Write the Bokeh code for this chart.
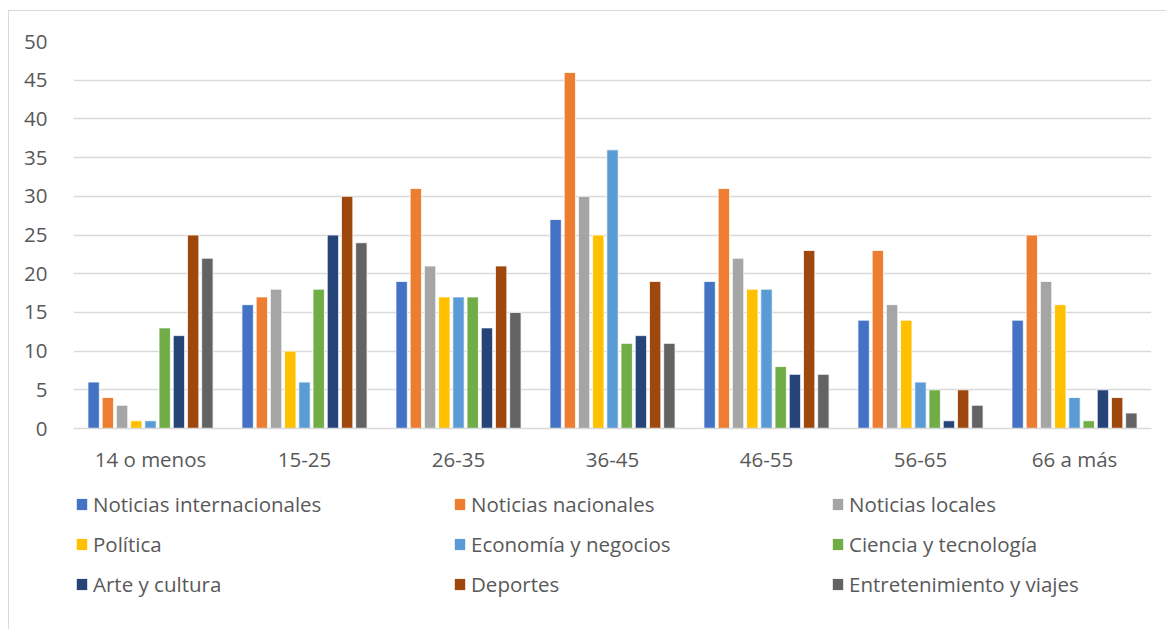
from bokeh.plotting import figure
from bokeh.layouts import column
from bokeh.models import FactorRange, Range1d, Legend, LegendItem, SingleIntervalTicker, ColumnDataSource
from bokeh.transform import dodge
from bokeh.embed import file_html
from bokeh.resources import INLINE

categories = ["14 o menos", "15-25", "26-35", "36-45", "46-55", "56-65", "66 a más"]
series_names = ["Noticias internacionales", "Noticias nacionales", "Noticias locales",
                "Política", "Economía y negocios", "Ciencia y tecnología",
                "Arte y cultura", "Deportes", "Entretenimiento y viajes"]
noticias_internacionales = [6, 16, 19, 27, 19, 14, 14]
noticias_nacionales = [4, 17, 31, 46, 31, 23, 25]
noticias_locales = [3, 18, 21, 30, 22, 16, 19]
politica = [1, 10, 17, 25, 18, 14, 16]
economia_negocios = [1, 6, 17, 36, 18, 6, 4]
ciencia_tecnologia = [13, 18, 17, 11, 8, 5, 1]
arte_cultura = [12, 25, 13, 12, 7, 1, 5]
deportes = [25, 30, 21, 19, 23, 5, 4]
entretenimiento_viajes = [22, 24, 15, 11, 7, 3, 2]
series_values = [noticias_internacionales, noticias_nacionales, noticias_locales, politica,
                 economia_negocios, ciencia_tecnologia, arte_cultura, deportes,
                 entretenimiento_viajes]
colors = ["#4472C4", "#ED7D31", "#A5A5A5", "#FFC000", "#5B9BD5", "#70AD47",
          "#264478", "#9E480E", "#636363"]

FONT = "Open Sans"
TXT = "#595959"
FS = "20.5px"

data = {"cat": categories}
for i, v in enumerate(series_values):
    data[f"s{i}"] = v
src = ColumnDataSource(data)

p = figure(x_range=FactorRange(*categories), y_range=Range1d(0, 50),
           frame_width=1078, frame_height=387,
           min_border_left=64, min_border_right=16, min_border_top=30, min_border_bottom=50,
           output_backend="svg", toolbar_location=None)
p.outline_line_color = None
p.x_range.range_padding = 0
p.background_fill_color = "white"
p.border_fill_color = "white"

slot = 0.0923
for i, name in enumerate(series_names):
    off = (i - 4) * slot
    p.vbar(x=dodge("cat", off, range=p.x_range), top=f"s{i}", width=0.074,
           source=src, fill_color=colors[i], line_color="white", line_width=0.8)

p.yaxis.ticker = SingleIntervalTicker(interval=5)
p.yaxis.axis_line_color = None
p.yaxis.major_tick_line_color = None
p.yaxis.minor_tick_line_color = None
p.yaxis.major_label_standoff = 20
p.yaxis.major_label_text_font = FONT
p.yaxis.major_label_text_font_size = FS
p.yaxis.major_label_text_color = TXT

p.xaxis.axis_line_color = "#D9D9D9"
p.xaxis.axis_line_width = 1.5
p.xaxis.major_tick_line_color = None
p.xaxis.minor_tick_line_color = None
p.xaxis.major_label_standoff = 10
p.xaxis.major_label_text_font = FONT
p.xaxis.major_label_text_font_size = FS
p.xaxis.major_label_text_color = TXT

p.xgrid.grid_line_color = None
p.ygrid.grid_line_color = "#D9D9D9"
p.ygrid.grid_line_width = 1.5

# legend figure below the chart (zero-width proxy bars, outside its visible y range)
lg = figure(width=1158, height=152, x_range=FactorRange(*categories), y_range=Range1d(-100, -90),
            min_border=0, output_backend="svg", toolbar_location=None)
lg.axis.visible = False
lg.grid.visible = False
lg.outline_line_color = None
lg.background_fill_color = "white"
lg.border_fill_color = "white"
items = []
for i, name in enumerate(series_names):
    r = lg.vbar(x="cat", top=f"s{i}", width=0, source=src,
                fill_color=colors[i], line_color=None)
    items.append(LegendItem(label=name, renderers=[r]))

legend = Legend(items=items, ncols=3, orientation="horizontal", location=(2, 31),
                glyph_width=13, glyph_height=14, label_standoff=5,
                label_width=350, label_height=30, spacing=10,
                margin=0, padding=13, border_line_color=None, background_fill_alpha=0,
                label_text_font=FONT, label_text_font_size=FS, label_text_color=TXT)
lg.add_layout(legend, "center")

layout = column(p, lg, spacing=0,
                styles={"margin-left": "8px", "margin-top": "10px",
                        "border-left": "1px solid #D9D9D9", "border-top": "1px solid #D9D9D9"})

open("out.html", "w").write(file_html(layout, INLINE))
